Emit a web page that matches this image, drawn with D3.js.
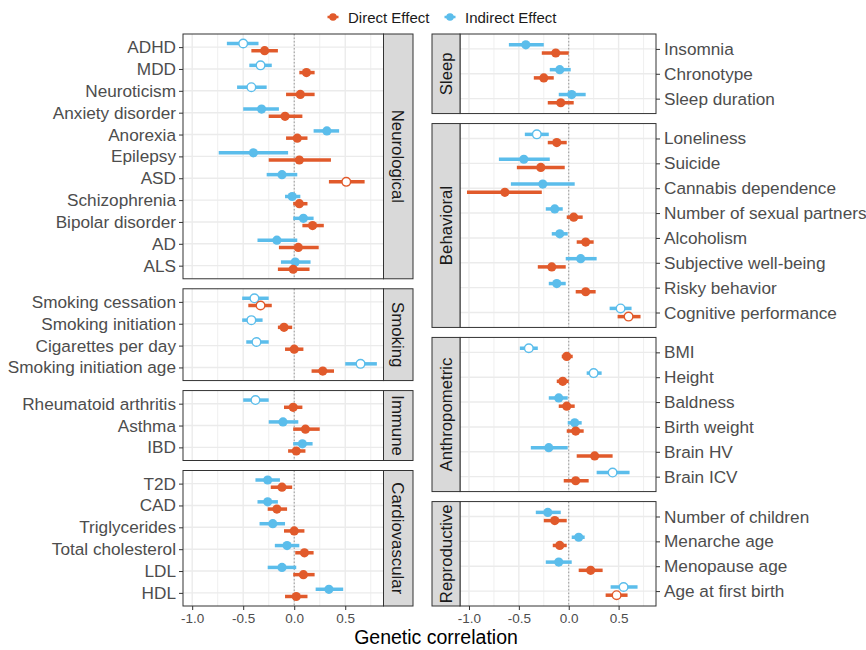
<!DOCTYPE html>
<html>
<head>
<meta charset="utf-8">
<script src="https://cdn.jsdelivr.net/npm/d3@7"></script>
<style>
  body { margin: 0; background: #fff; }
  svg { font-family: "Liberation Sans", Arial, sans-serif; }
</style>
</head>
<body>
<div id="chart"></div>
<script>
// ---- data ----
const traits = [
  "ADHD", "MDD", "Neuroticism", "Anxiety disorder", "Anorexia", "Epilepsy", "ASD",
  "Schizophrenia", "Bipolar disorder", "AD", "ALS",
  "Smoking cessation", "Smoking initiation", "Cigarettes per day", "Smoking initiation age",
  "Rheumatoid arthritis", "Asthma", "IBD",
  "T2D", "CAD", "Triglycerides", "Total cholesterol", "LDL", "HDL",
  "Insomnia", "Chronotype", "Sleep duration",
  "Loneliness", "Suicide", "Cannabis dependence", "Number of sexual partners", "Alcoholism",
  "Subjective well-being", "Risky behavior", "Cognitive performance",
  "BMI", "Height", "Baldness", "Birth weight", "Brain HV", "Brain ICV",
  "Number of children", "Menarche age", "Menopause age", "Age at first birth"
];
const traitGroup = [
  "Neurological", "Neurological", "Neurological", "Neurological", "Neurological", "Neurological",
  "Neurological", "Neurological", "Neurological", "Neurological", "Neurological",
  "Smoking", "Smoking", "Smoking", "Smoking",
  "Immune", "Immune", "Immune",
  "Cardiovascular", "Cardiovascular", "Cardiovascular", "Cardiovascular", "Cardiovascular", "Cardiovascular",
  "Sleep", "Sleep", "Sleep",
  "Behavioral", "Behavioral", "Behavioral", "Behavioral", "Behavioral", "Behavioral", "Behavioral", "Behavioral",
  "Anthropometric", "Anthropometric", "Anthropometric", "Anthropometric", "Anthropometric", "Anthropometric",
  "Reproductive", "Reproductive", "Reproductive", "Reproductive"
];
const leftGroups = ["Neurological", "Smoking", "Immune", "Cardiovascular"];
const rightGroups = ["Sleep", "Behavioral", "Anthropometric", "Reproductive"];

const directEst = [-0.29, 0.12, 0.06, -0.09, 0.03, 0.05, 0.51, 0.05, 0.18, 0.04, -0.01,
  -0.33, -0.10, 0.00, 0.28,
  -0.01, 0.11, 0.02,
  -0.12, -0.17, 0.00, 0.10, 0.09, 0.02,
  -0.13, -0.25, -0.08,
  -0.12, -0.28, -0.64, 0.05, 0.17, -0.17, 0.17, 0.60,
  -0.02, -0.06, -0.02, 0.07, 0.26, 0.07,
  -0.14, -0.09, 0.22, 0.48];
const directLo = [-0.42, 0.05, -0.08, -0.25, -0.08, -0.25, 0.34, -0.01, 0.08, -0.15, -0.16,
  -0.45, -0.16, -0.09, 0.17,
  -0.10, -0.01, -0.06,
  -0.23, -0.26, -0.10, 0.01, -0.01, -0.09,
  -0.27, -0.35, -0.21,
  -0.21, -0.52, -1.02, -0.02, 0.08, -0.31, 0.07, 0.49,
  -0.07, -0.12, -0.10, -0.02, 0.08, -0.05,
  -0.25, -0.16, 0.10, 0.37];
const directHi = [-0.16, 0.20, 0.20, 0.08, 0.13, 0.36, 0.69, 0.13, 0.29, 0.24, 0.15,
  -0.22, -0.02, 0.09, 0.39,
  0.08, 0.25, 0.11,
  -0.02, -0.07, 0.10, 0.19, 0.20, 0.13,
  0.00, -0.15, 0.05,
  -0.02, -0.04, -0.27, 0.14, 0.25, -0.03, 0.27, 0.72,
  0.04, 0.00, 0.06, 0.15, 0.44, 0.20,
  -0.02, -0.02, 0.34, 0.59];
const directOpen = [0, 0, 0, 0, 0, 0, 1, 0, 0, 0, 0,
  1, 0, 0, 0,
  0, 0, 0,
  0, 0, 0, 0, 0, 0,
  0, 0, 0,
  0, 0, 0, 0, 0, 0, 0, 1,
  0, 0, 0, 0, 0, 0,
  0, 0, 0, 1];

const indirectEst = [-0.50, -0.33, -0.42, -0.32, 0.32, -0.40, -0.12, -0.02, 0.09, -0.17, 0.01,
  -0.39, -0.42, -0.37, 0.65,
  -0.38, -0.11, 0.08,
  -0.26, -0.26, -0.21, -0.07, -0.12, 0.34,
  -0.43, -0.09, 0.03,
  -0.32, -0.45, -0.26, -0.14, -0.09, 0.12, -0.12, 0.52,
  -0.40, 0.25, -0.10, 0.06, -0.20, 0.44,
  -0.21, 0.10, -0.10, 0.55];
const indirectLo = [-0.66, -0.44, -0.56, -0.50, 0.19, -0.74, -0.27, -0.09, -0.01, -0.36, -0.13,
  -0.51, -0.51, -0.47, 0.50,
  -0.50, -0.25, -0.01,
  -0.38, -0.36, -0.34, -0.19, -0.26, 0.21,
  -0.60, -0.19, -0.10,
  -0.44, -0.70, -0.58, -0.23, -0.17, -0.03, -0.20, 0.41,
  -0.49, 0.18, -0.20, -0.01, -0.38, 0.28,
  -0.33, 0.03, -0.23, 0.42];
const indirectHi = [-0.35, -0.22, -0.27, -0.15, 0.44, -0.06, 0.03, 0.06, 0.19, 0.03, 0.16,
  -0.25, -0.31, -0.25, 0.81,
  -0.25, 0.04, 0.18,
  -0.14, -0.16, -0.09, 0.05, 0.02, 0.48,
  -0.25, 0.02, 0.17,
  -0.20, -0.19, 0.06, -0.06, -0.01, 0.28, -0.03, 0.63,
  -0.31, 0.33, -0.01, 0.13, -0.01, 0.61,
  -0.08, 0.16, 0.03, 0.69];
const indirectOpen = [1, 1, 1, 0, 0, 0, 0, 0, 0, 0, 0,
  1, 1, 1, 1,
  1, 0, 0,
  0, 0, 0, 0, 0, 0,
  0, 0, 0,
  1, 0, 0, 0, 0, 0, 0, 1,
  1, 1, 0, 0, 0, 1,
  0, 0, 0, 1];

const xTicks = [-1.0, -0.5, 0.0, 0.5];
const xMinor = [-0.75, -0.25, 0.25, 0.75];
const effects = ["Direct Effect", "Indirect Effect"];
const colors = { "Direct Effect": "#E15A2B", "Indirect Effect": "#5BBDEB" };

// ---- layout ----
const width = 866, height = 650;
const plotTop = 34, plotBottom = 606, gap = 10;
const xDomain = [-1.09, 0.875];

const svg = d3.select("#chart").append("svg")
  .attr("width", width)
  .attr("height", height);

function series(i) {
  return [
    { eff: "Indirect Effect", est: indirectEst[i], lo: indirectLo[i], hi: indirectHi[i], open: indirectOpen[i], off: -0.165 },
    { eff: "Direct Effect", est: directEst[i], lo: directLo[i], hi: directHi[i], open: directOpen[i], off: 0.165 }
  ];
}

function drawColumn(groups, panelRange, stripRange, side) {
  const x = d3.scaleLinear().domain(xDomain).range(panelRange);
  const counts = groups.map(g => traitGroup.filter(t => t === g).length);
  const unit = (plotBottom - plotTop - gap * (groups.length - 1)) / d3.sum(counts, c => c + 0.2);
  let y0 = plotTop;

  groups.forEach((g, gi) => {
    const idx = d3.range(traits.length).filter(i => traitGroup[i] === g);
    const h = (idx.length + 0.2) * unit;
    const y = d3.scalePoint()
      .domain(idx.map(i => traits[i]))
      .range([y0, y0 + h])
      .padding(0.6);
    const step = y.step();
    const panel = svg.append("g");

    panel.append("rect")
      .attr("x", panelRange[0]).attr("y", y0)
      .attr("width", panelRange[1] - panelRange[0]).attr("height", h)
      .attr("fill", "#fff");

    panel.selectAll(".minor").data(xMinor).join("line")
      .attr("x1", d => x(d)).attr("x2", d => x(d))
      .attr("y1", y0).attr("y2", y0 + h)
      .attr("stroke", "#ebebeb").attr("stroke-width", 0.8);

    panel.selectAll(".major").data(xTicks).join("line")
      .attr("x1", d => x(d)).attr("x2", d => x(d))
      .attr("y1", y0).attr("y2", y0 + h)
      .attr("stroke", "#ebebeb").attr("stroke-width", 1.4);

    panel.selectAll(".hgrid").data(y.domain()).join("line")
      .attr("x1", panelRange[0]).attr("x2", panelRange[1])
      .attr("y1", d => y(d)).attr("y2", d => y(d))
      .attr("stroke", "#ebebeb").attr("stroke-width", 1.4);

    panel.append("line")
      .attr("x1", x(0)).attr("x2", x(0))
      .attr("y1", y0).attr("y2", y0 + h)
      .attr("stroke", "#9a9a9a").attr("stroke-width", 1)
      .attr("stroke-dasharray", "1.5,2");

    const rows = idx.flatMap(i => series(i).map(s => ({ ...s, trait: traits[i] })));

    panel.selectAll(".seg").data(rows).join("line")
      .attr("x1", d => x(d.lo)).attr("x2", d => x(d.hi))
      .attr("y1", d => y(d.trait) + d.off * step)
      .attr("y2", d => y(d.trait) + d.off * step)
      .attr("stroke", d => colors[d.eff])
      .attr("stroke-width", 3.5);

    panel.selectAll(".pt").data(rows).join("circle")
      .attr("cx", d => x(d.est))
      .attr("cy", d => y(d.trait) + d.off * step)
      .attr("r", d => d.open ? 4.3 : 4.6)
      .attr("fill", d => d.open ? "#fff" : colors[d.eff])
      .attr("stroke", d => colors[d.eff])
      .attr("stroke-width", d => d.open ? 1.4 : 0);

    panel.append("rect")
      .attr("x", panelRange[0]).attr("y", y0)
      .attr("width", panelRange[1] - panelRange[0]).attr("height", h)
      .attr("fill", "none").attr("stroke", "#333").attr("stroke-width", 1);

    // strip
    panel.append("rect")
      .attr("x", stripRange[0]).attr("y", y0)
      .attr("width", stripRange[1] - stripRange[0]).attr("height", h)
      .attr("fill", "#d9d9d9").attr("stroke", "#333").attr("stroke-width", 1);

    const sx = (stripRange[0] + stripRange[1]) / 2;
    const sy = y0 + h / 2;
    panel.append("text")
      .attr("transform", `translate(${sx},${sy}) rotate(${side === "left" ? 90 : -90})`)
      .attr("text-anchor", "middle")
      .attr("dy", "0.36em")
      .style("font-size", "16.8px")
      .attr("fill", "#1a1a1a")
      .text(g);

    // y axis
    const yAxis = side === "left"
      ? d3.axisLeft(y).tickSize(4).tickPadding(3)
      : d3.axisRight(y).tickSize(4).tickPadding(4);
    const ay = panel.append("g")
      .attr("transform", `translate(${side === "left" ? panelRange[0] : panelRange[1]},0)`)
      .call(yAxis);
    ay.select(".domain").remove();
    ay.selectAll(".tick line").attr("stroke", "#333");
    ay.selectAll(".tick text")
      .style("font-size", "17.2px")
      .attr("fill", "#4d4d4d");

    if (gi === groups.length - 1) {
      const ax = panel.append("g")
        .attr("transform", `translate(0,${y0 + h})`)
        .call(d3.axisBottom(x).tickValues(xTicks).tickSize(4).tickPadding(3)
          .tickFormat(d => d.toFixed(1)));
      ax.select(".domain").remove();
      ax.selectAll(".tick line").attr("stroke", "#333");
      ax.selectAll(".tick text")
        .style("font-size", "13.5px")
        .attr("fill", "#4d4d4d");
    }

    y0 += h + gap;
  });
}

drawColumn(leftGroups, [183, 383.5], [383.5, 413], "left");
drawColumn(rightGroups, [460, 656], [432, 460], "right");

// x axis title
svg.append("text")
  .attr("x", 436)
  .attr("y", 644)
  .attr("text-anchor", "middle")
  .style("font-size", "19.5px")
  .attr("fill", "#000")
  .text("Genetic correlation");

// legend
const legendX = [333, 450];
const legend = svg.append("g");
effects.forEach((e, i) => {
  legend.append("line")
    .attr("x1", legendX[i] - 5.5).attr("x2", legendX[i] + 5.5)
    .attr("y1", 17).attr("y2", 17)
    .attr("stroke", colors[e]).attr("stroke-width", 2.5);
  legend.append("circle")
    .attr("cx", legendX[i]).attr("cy", 17).attr("r", 3.8)
    .attr("fill", colors[e]);
  legend.append("text")
    .attr("x", legendX[i] + 15)
    .attr("y", 22.5)
    .style("font-size", "15px")
    .attr("fill", "#1a1a1a")
    .text(e);
});
</script>
</body>
</html>
